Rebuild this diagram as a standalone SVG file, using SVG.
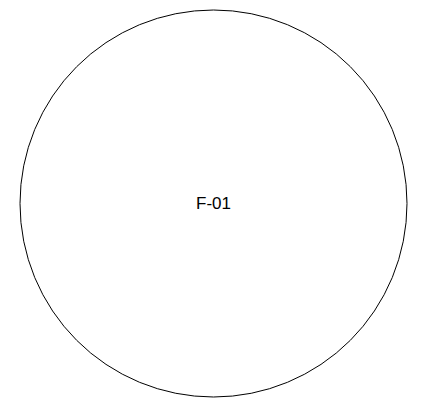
<svg xmlns="http://www.w3.org/2000/svg" width="428" height="407" viewBox="0 0 428 407">
<style>
.node{fill:#ffffff;stroke:#000000;stroke-width:1}
.label{font-family:"Liberation Sans","DejaVu Sans",sans-serif;font-size:17px;fill:#000000;text-anchor:middle;dominant-baseline:central}
</style>
<rect width="428" height="407" fill="#ffffff"/>
<g id="connectors"></g>
<g id="F-01">
<circle class="node" cx="213.5" cy="203.5" r="193.5"/>
<text class="label" x="213.5" y="203">F-01</text>
</g>
</svg>
